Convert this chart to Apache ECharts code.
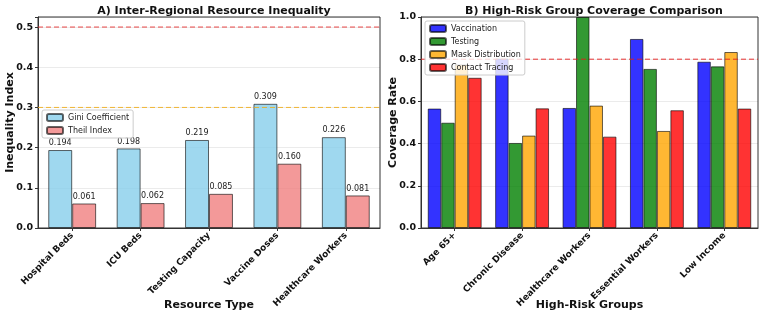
<!DOCTYPE html>
<html>
<head>
    <meta charset="utf-8">
    <title>Resource Inequality</title>
    <script src="https://cdn.jsdelivr.net/npm/echarts@6/dist/echarts.min.js"></script>
    <style>
        html, body { margin: 0; padding: 0; background: #ffffff; }
        #chart { width: 767px; height: 324px; }
    </style>
</head>
<body>
<div id="chart"></div>
<script>
    // panel A data
    var resourceTypes = ['Hospital Beds', 'ICU Beds', 'Testing Capacity', 'Vaccine Doses', 'Healthcare Workers'];
    var giniValues = [0.194, 0.198, 0.219, 0.309, 0.226];
    var theilValues = [0.061, 0.062, 0.085, 0.160, 0.081];
    var thresholdsA = [0.5, 0.3];

    // panel B data
    var riskGroups = ['Age 65+', 'Chronic Disease', 'Healthcare Workers', 'Essential Workers', 'Low Income'];
    var vaccination = [0.566, 0.803, 0.569, 0.896, 0.788];
    var testing = [0.499, 0.403, 1.0, 0.754, 0.766];
    var maskDistribution = [0.775, 0.438, 0.580, 0.460, 0.834];
    var contactTracing = [0.712, 0.567, 0.433, 0.558, 0.566];
    var thresholdsB = [0.8];

    var font = 'DejaVu Sans';
    var edge = 'rgba(0,0,0,0.6)';

    var chart = echarts.init(document.getElementById('chart'), null, {renderer: 'canvas'});

    function valueAxis(gi, max, name, gap) {
        return {
            type: 'value', gridIndex: gi, min: 0, max: max, interval: 0.1 * (gi === 0 ? 1 : 2),
            name: name, nameLocation: 'middle', nameGap: gap, nameMoveOverlap: false,
            nameTextStyle: {fontFamily: font, fontWeight: 'bold', fontSize: 11, color: '#111'},
            axisLine: {show: true, lineStyle: {color: '#333'}},
            axisTick: {show: true, length: 3, lineStyle: {color: '#333'}},
            axisLabel: {
                fontFamily: font, fontWeight: 'bold', fontSize: 9.5, color: '#111', margin: 5,
                formatter: function (v) {
                    var step = gi === 0 ? 0.1 : 0.2;
                    var r = v / step;
                    if (Math.abs(r - Math.round(r)) > 1e-6) return '';
                    return v.toFixed(1);
                }
            },
            splitLine: {show: true, lineStyle: {color: 'rgba(0,0,0,0.1)', width: 0.8}}
        };
    }

    function categoryAxis(gi, data, name) {
        return {
            type: 'category', gridIndex: gi, data: data,
            name: name, nameLocation: 'middle', nameGap: 72, nameMoveOverlap: false,
            nameTextStyle: {fontFamily: font, fontWeight: 'bold', fontSize: 11, color: '#111'},
            axisLine: {show: true, lineStyle: {color: '#333'}},
            axisTick: {show: true, alignWithLabel: true, length: 3, lineStyle: {color: '#333'}},
            axisLabel: {fontFamily: font, fontWeight: 'bold', fontSize: 9, color: '#111', rotate: 45, margin: 6, interval: 0},
            splitLine: {show: false}
        };
    }

    // hidden 0..1 axis across each panel, used for the dashed threshold lines
    function spanAxis(gi) {
        return {type: 'value', gridIndex: gi, min: 0, max: 1, show: false, splitLine: {show: false}};
    }

    function thresholdLine(xi, yi, value, color) {
        return {
            type: 'line', xAxisIndex: xi, yAxisIndex: yi, silent: true, symbol: 'none',
            data: [[0, value], [1, value]],
            lineStyle: {color: color, type: [5, 3], width: 1},
            itemStyle: {color: color}, z: 3
        };
    }

    function barA(name, values, color) {
        return {
            name: name, type: 'bar', xAxisIndex: 0, yAxisIndex: 0, data: values,
            barGap: '0%', barCategoryGap: '30%',
            itemStyle: {color: color, borderColor: edge, borderWidth: 1},
            label: {
                show: true, position: 'top', distance: 3,
                fontFamily: font, fontSize: 8, color: '#222',
                formatter: function (p) { return p.value.toFixed(3); }
            }
        };
    }

    function barB(name, values, color) {
        return {
            name: name, type: 'bar', xAxisIndex: 1, yAxisIndex: 1, data: values,
            barGap: '0%', barCategoryGap: '20%',
            itemStyle: {color: color, borderColor: edge, borderWidth: 1}
        };
    }

    var legendText = {fontFamily: font, fontSize: 8, color: '#222'};

    var option = {
        backgroundColor: '#ffffff',
        animation: false,
        title: [
            {text: 'A) Inter-Regional Resource Inequality', left: 209, top: 1, textAlign: 'center',
                textStyle: {fontFamily: font, fontWeight: 'bold', fontSize: 11, color: '#111'}},
            {text: 'B) High-Risk Group Coverage Comparison', left: 589, top: 1, textAlign: 'center',
                textStyle: {fontFamily: font, fontWeight: 'bold', fontSize: 11, color: '#111'}}
        ],
        legend: [
            {
                data: ['Gini Coefficient', 'Theil Index'], orient: 'vertical',
                left: 42, top: 110, itemWidth: 16, itemHeight: 7, itemGap: 4,
                padding: [3, 4], borderColor: '#ccc', borderWidth: 1, borderRadius: 2,
                backgroundColor: 'rgba(255,255,255,0.8)', textStyle: legendText
            },
            {
                data: ['Vaccination', 'Testing', 'Mask Distribution', 'Contact Tracing'], orient: 'vertical',
                left: 425, top: 21, itemWidth: 16, itemHeight: 7, itemGap: 4,
                padding: [3, 4], borderColor: '#ccc', borderWidth: 1, borderRadius: 2,
                backgroundColor: 'rgba(255,255,255,0.8)', textStyle: legendText
            }
        ],
        grid: [
            {left: 38, top: 17, width: 342, height: 211,
                show: true, borderColor: '#333', borderWidth: 1},
            {left: 421, top: 17, width: 337, height: 211,
                show: true, borderColor: '#333', borderWidth: 1}
        ],
        xAxis: [
            categoryAxis(0, resourceTypes, 'Resource Type'),
            categoryAxis(1, riskGroups, 'High-Risk Groups'),
            spanAxis(0),
            spanAxis(1)
        ],
        yAxis: [
            valueAxis(0, 0.525, 'Inequality Index', 22),
            valueAxis(1, 1.0, 'Coverage Rate', 22)
        ],
        series: [
            barA('Gini Coefficient', giniValues, 'rgba(135,206,235,0.8)'),
            barA('Theil Index', theilValues, 'rgba(240,128,128,0.8)'),
            barB('Vaccination', vaccination, 'rgba(0,0,255,0.8)'),
            barB('Testing', testing, 'rgba(0,128,0,0.8)'),
            barB('Mask Distribution', maskDistribution, 'rgba(255,165,0,0.8)'),
            barB('Contact Tracing', contactTracing, 'rgba(255,0,0,0.8)'),
            thresholdLine(2, 0, thresholdsA[0], 'rgba(230,40,40,0.85)'),
            thresholdLine(2, 0, thresholdsA[1], 'rgba(240,170,20,0.85)'),
            thresholdLine(3, 1, thresholdsB[0], 'rgba(230,30,30,0.9)')
        ]
    };

    chart.setOption(option);
</script>
</body>
</html>
